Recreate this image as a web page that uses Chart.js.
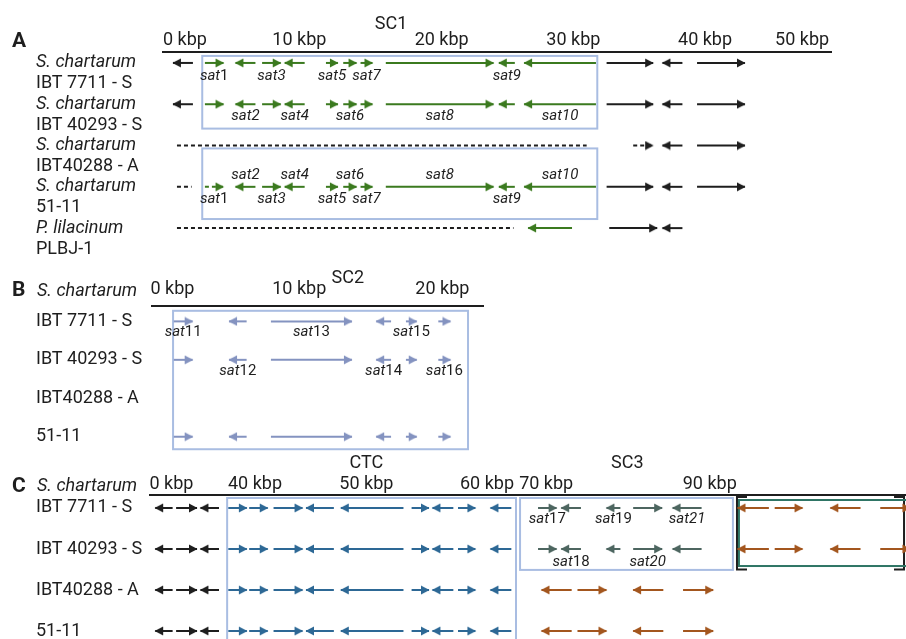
<!DOCTYPE html>
<html>
<head>
<meta charset="utf-8">
<script src="https://cdn.jsdelivr.net/npm/chart.js@4.4.1/dist/chart.umd.min.js"></script>
<style>
  body { margin: 0; background: #fff; width: 906px; height: 639px; position: relative; overflow: hidden; }
  .panel { position: absolute; left: 0; width: 906px; }
</style>
</head>
<body>
<div class="panel" style="top:0;height:255px"><canvas id="chartA"></canvas></div>
<div class="panel" style="top:255px;height:200px"><canvas id="chartB"></canvas></div>
<div class="panel" style="top:455px;height:184px"><canvas id="chartC"></canvas></div>
<script>
// ---------- data ----------
// A: SC1 cluster (kbp, arrow goes from -> to)
let strainsA = [['S. chartarum', 'IBT 7711 - S'], ['S. chartarum', 'IBT 40293 - S'], ['S. chartarum', 'IBT40288 - A'], ['S. chartarum', '51-11'], ['P. lilacinum', 'PLBJ-1']];
let ticksA = [0.9, 9.5, 20.2, 30.1, 40, 47.3];
let tickLabelsA = ['0 kbp', '10 kbp', '20 kbp', '30 kbp', '40 kbp', '50 kbp'];
let satA = ['sat1', 'sat2', 'sat3', 'sat4', 'sat5', 'sat6', 'sat7', 'sat8', 'sat9', 'sat10'];
let satAFrom = [2.4, 6.2, 6.7, 9.9, 11.5, 12.8, 14.1, 16.0, 25.7, 31.8];
let satATo = [3.8, 4.7, 8.1, 8.4, 12.4, 13.8, 15.0, 24.1, 24.5, 26.4];
let flankAFrom = [32.6, 38.3, 39.4];
let flankATo = [36.1, 36.8, 43.0];
let plbjFrom = [30.0, 32.8, 38.3];
let plbjTo = [26.7, 36.4, 36.8];

// B: SC2 cluster
let strainsB = ['IBT 7711 - S', 'IBT 40293 - S', 'IBT40288 - A', '51-11'];
let ticksB = [0.1, 9.5, 20.1];
let tickLabelsB = ['0 kbp', '10 kbp', '20 kbp'];
let satB = ['sat11', 'sat12', 'sat13', 'sat14', 'sat15', 'sat16'];
let satBFrom = [0.2, 5.6, 7.4, 16.3, 17.4, 19.8];
let satBTo = [1.6, 4.3, 13.4, 15.2, 18.2, 20.7];

// C: CTC and SC3 clusters
let strainsC = ['IBT 7711 - S', 'IBT 40293 - S', 'IBT40288 - A', '51-11'];
let ticksC = [32.8, 40, 49.6, 60, 65.1, 79.2];
let tickLabelsC = ['0 kbp', '40 kbp', '50 kbp', '60 kbp', '70 kbp', '90 kbp'];
let flankCFrom = [32.9, 33.2, 36.9];
let flankCTo = [31.4, 35.0, 35.3];
let ctcFrom = [37.7, 39.5, 41.6, 46.8, 52.8, 53.5, 57.1, 57.5, 62.1];
let ctcTo = [39.3, 41.1, 44.1, 44.4, 47.4, 55.0, 55.3, 59.0, 60.3];
let satC = ['sat17', 'sat18', 'sat19', 'sat20', 'sat21'];
let satCFrom = [64.4, 68.1, 71.5, 72.6, 78.5];
let satCTo = [66.0, 66.4, 70.3, 75.1, 76.0];
let brownFarFrom = [84.3, 84.8, 92.2, 93.9];
let brownFarTo = [81.6, 87.2, 89.6, 96.5];
let brownNearFrom = [67.3, 67.8, 75.2, 76.9];
let brownNearTo = [64.7, 70.3, 72.6, 79.5];

// ---------- colours ----------
const black = '#1e1e1e';
const green = '#3b7a1f';
const sc2Blue = '#8493c0';
const ctcBlue = '#2d6895';
const sc3Grey = '#4d6660';
const brown = '#a3561e';
const boxBlue = '#a9bde2';
const teal = '#2f7565';
const FONT = "Roboto, 'Liberation Sans', sans-serif";
Chart.defaults.font.family = FONT;

let heads = {};
function head(color) {
  if (!heads[color]) {
    let c = document.createElement('canvas');
    c.width = 18;
    c.height = 10;
    let g = c.getContext('2d');
    g.fillStyle = color;
    g.beginPath();
    g.moveTo(1, 0.5);
    g.lineTo(9.5, 5);
    g.lineTo(1, 9.5);
    g.closePath();
    g.fill();
    heads[color] = c;
  }
  return heads[color];
}

function arrow(from, to, row, color, opt) {
  opt = opt || {};
  return {
    data: [{ x: from, y: row }, { x: to, y: row }],
    showLine: true,
    borderColor: color,
    borderWidth: 2,
    borderDash: opt.dash ? [4, 3] : [],
    pointRadius: [0, opt.noHead ? 0 : 5],
    pointStyle: head(color),
    pointRotation: to < from ? 180 : 0,
  };
}

function mid(a, b) {
  return (a + b) / 2;
}

// ---------- panel A datasets ----------
let dsA = [];
[0, 1].forEach(r => {
  dsA.push(arrow(1.5, 0, r, black));
  satAFrom.forEach((f, i) => dsA.push(arrow(f, satATo[i], r, green)));
  flankAFrom.forEach((f, i) => dsA.push(arrow(f, flankATo[i], r, black)));
});
dsA.push(arrow(0.3, 31.1, 2, black, { dash: true, noHead: true }));
dsA.push(arrow(34.6, flankATo[0], 2, black, { dash: true }));
dsA.push(arrow(flankAFrom[1], flankATo[1], 2, black));
dsA.push(arrow(flankAFrom[2], flankATo[2], 2, black));
dsA.push(arrow(0.3, 1.4, 3, black, { dash: true, noHead: true }));
satAFrom.forEach((f, i) => dsA.push(arrow(f, satATo[i], 3, green, { dash: i === 0 })));
flankAFrom.forEach((f, i) => dsA.push(arrow(f, flankATo[i], 3, black)));
dsA.push(arrow(0.3, 25.6, 4, black, { dash: true, noHead: true }));
plbjFrom.forEach((f, i) => dsA.push(arrow(f, plbjTo[i], 4, i === 0 ? green : black)));

let labA = [];
satA.forEach((n, i) => {
  let c = mid(satAFrom[i], satATo[i]);
  if (i % 2 === 0) labA.push({ t: n, x: c, row: 0, dy: 13 });
  else labA.push({ t: n, x: c, row: 1, dy: 12 });
  labA.push({ t: n, x: c, row: 3, dy: i % 2 === 0 ? 12 : -12 });
});

// ---------- panel B datasets ----------
let dsB = [];
[0, 1, 3].forEach(r => {
  satBFrom.forEach((f, i) => dsB.push(arrow(f, satBTo[i], r, sc2Blue)));
});
let labB = satB.map((n, i) => ({ t: n, x: mid(satBFrom[i], satBTo[i]), row: i % 2, dy: 11 }));

// ---------- panel C datasets ----------
let dsC = [];
[0, 1, 2, 3].forEach(r => {
  flankCFrom.forEach((f, i) => dsC.push(arrow(f, flankCTo[i], r, black)));
  ctcFrom.forEach((f, i) => dsC.push(arrow(f, ctcTo[i], r, ctcBlue)));
  if (r < 2) {
    satCFrom.forEach((f, i) => dsC.push(arrow(f, satCTo[i], r, sc3Grey)));
    brownFarFrom.forEach((f, i) => dsC.push(arrow(f, brownFarTo[i], r, brown)));
  } else {
    brownNearFrom.forEach((f, i) => dsC.push(arrow(f, brownNearTo[i], r, brown)));
  }
});
let labC = satC.map((n, i) => ({ t: n, x: mid(satCFrom[i], satCTo[i]), row: i % 2, dy: i % 2 ? 13 : 11 }));

// ---------- drawing helpers ----------
function drawSat(ctx, text, cx, cy) {
  let num = text.slice(3);
  let upright = /^1[1-9]?$/.test(num);
  let f1 = 'italic 15px ' + FONT;
  let f2 = (upright ? '' : 'italic ') + '15px ' + FONT;
  ctx.font = f1;
  let w1 = ctx.measureText('sat').width;
  ctx.font = f2;
  let w2 = ctx.measureText(num).width;
  let left = cx - (w1 + w2) / 2;
  ctx.textAlign = 'left';
  ctx.textBaseline = 'middle';
  ctx.fillStyle = '#1e1e1e';
  ctx.font = f1;
  ctx.fillText('sat', left, cy);
  ctx.font = f2;
  ctx.fillText(num, left + w1, cy);
}

function panelPlugin(cfg) {
  return {
    id: 'panel' + cfg.letter,
    beforeDatasetsDraw(chart) {
      let { ctx, scales: { x, y } } = chart;
      ctx.save();
      ctx.lineWidth = 2;
      cfg.boxes.forEach(b => {
        let x0 = x.getPixelForValue(b.x0), x1 = x.getPixelForValue(b.x1);
        let y0 = y.getPixelForValue(b.y0), y1 = y.getPixelForValue(b.y1);
        ctx.strokeStyle = b.color;
        if (b.bracket) {
          ctx.beginPath();
          ctx.moveTo(x0 + 10, y0); ctx.lineTo(x0, y0); ctx.lineTo(x0, y1); ctx.lineTo(x0 + 10, y1);
          ctx.moveTo(x1 - 10, y0); ctx.lineTo(x1, y0); ctx.lineTo(x1, y1); ctx.lineTo(x1 - 10, y1);
          ctx.stroke();
        } else {
          ctx.strokeRect(x0, y0, x1 - x0, y1 - y0);
        }
      });
      ctx.restore();
    },
    afterDatasetsDraw(chart) {
      let { ctx, scales: { x, y }, chartArea } = chart;
      ctx.save();
      ctx.fillStyle = '#1e1e1e';
      // cluster titles
      ctx.font = '18px ' + FONT;
      ctx.textAlign = 'center';
      ctx.textBaseline = 'middle';
      cfg.titles.forEach(t => ctx.fillText(t.t, x.getPixelForValue(t.x), chartArea.top + cfg.titleDy));
      // panel letter and header
      ctx.textAlign = 'left';
      ctx.font = 'bold 21px ' + FONT;
      ctx.fillText(cfg.letter, 12, chartArea.top + cfg.letterDy);
      if (cfg.header) {
        ctx.font = 'italic 18px ' + FONT;
        ctx.fillText(cfg.header, 37, chartArea.top + cfg.letterDy);
      }
      // strain names
      cfg.strains.forEach((s, i) => {
        let py = y.getPixelForValue(i);
        if (Array.isArray(s)) {
          ctx.font = 'italic 18px ' + FONT;
          ctx.fillText(s[0], 36, py);
          ctx.font = '18px ' + FONT;
          ctx.fillText(s[1], 36, py + 21);
        } else {
          ctx.font = '18px ' + FONT;
          ctx.fillText(s, 36, py);
        }
      });
      // gene labels
      cfg.labels.forEach(l => drawSat(ctx, l.t, x.getPixelForValue(l.x), y.getPixelForValue(l.row) + l.dy));
      ctx.restore();
    }
  };
}

function makeChart(id, cfg) {
  return new Chart(document.getElementById(id), {
    type: 'scatter',
    data: { datasets: cfg.datasets },
    options: {
      responsive: true,
      maintainAspectRatio: false,
      animation: false,
      events: [],
      layout: { padding: cfg.padding, autoPadding: false },
      plugins: { legend: { display: false }, tooltip: { enabled: false } },
      scales: {
        x: {
          type: 'linear',
          position: 'top',
          min: cfg.xMin,
          max: cfg.xMax,
          grid: { display: false, drawTicks: false },
          border: { display: true, color: '#1e1e1e', width: 2 },
          afterBuildTicks: s => { s.ticks = cfg.ticks.map(v => ({ value: v })); },
          afterFit: s => { s.paddingLeft = 0; s.paddingRight = 0; },
          ticks: {
            autoSkip: false,
            maxRotation: 0,
            padding: cfg.tickPad,
            color: '#1e1e1e',
            font: { size: 18 },
            callback: (v, i) => cfg.tickLabels[i]
          }
        },
        y: { type: 'linear', display: false, reverse: true, min: cfg.yMin, max: cfg.yMax }
      }
    },
    plugins: [panelPlugin(cfg)]
  });
}

makeChart('chartA', {
  letter: 'A', header: null, strains: strainsA, datasets: dsA, labels: labA,
  ticks: ticksA, tickLabels: tickLabelsA, tickPad: 1,
  xMin: -0.75, xMax: 49.47, yMin: -0.265, yMax: 4.651,
  padding: { left: 163, right: 75, top: 28.4, bottom: 0 },
  titles: [{ t: 'SC1', x: 16.4 }], titleDy: -27.5, letterDy: -10.5,
  boxes: [
    { x0: 2.2, x1: 31.9, y0: -0.17, y1: 1.59, color: boxBlue },
    { x0: 2.2, x1: 31.9, y0: 2.07, y1: 3.78, color: boxBlue }
  ]
});

makeChart('chartB', {
  letter: 'B', header: 'S. chartarum', strains: strainsB, datasets: dsB, labels: labB,
  ticks: ticksB, tickLabels: tickLabelsB, tickPad: 6,
  xMin: -1.41, xMax: 23.11, yMin: -0.4, yMax: 3.475,
  padding: { left: 152, right: 423, top: 17.4, bottom: 0 },
  titles: [{ t: 'SC2', x: 13.1 }], titleDy: -28, letterDy: -15,
  boxes: [{ x0: 0.15, x1: 22.0, y0: -0.275, y1: 3.325, color: boxBlue }]
});

makeChart('chartC', {
  letter: 'C', header: 'S. chartarum', strains: strainsC, datasets: dsC, labels: labC,
  ticks: ticksC, tickLabels: tickLabelsC, tickPad: 0,
  xMin: 30.95, xMax: 96.12, yMin: -0.317, yMax: 3.195,
  padding: { left: 150, right: 0, top: 18.4, bottom: 0 },
  titles: [{ t: 'CTC', x: 49.6 }, { t: 'SC3', x: 72.1 }], titleDy: -32, letterDy: -8.5,
  boxes: [
    { x0: 37.6, x1: 62.5, y0: -0.244, y1: 3.6, color: boxBlue },
    { x0: 62.85, x1: 81.2, y0: -0.244, y1: 1.51, color: boxBlue },
    { x0: 81.55, x1: 95.95, y0: -0.27, y1: 1.5, color: black, bracket: true },
    { x0: 81.72, x1: 96.3, y0: -0.195, y1: 1.415, color: teal }
  ]
});
</script>
</body>
</html>
